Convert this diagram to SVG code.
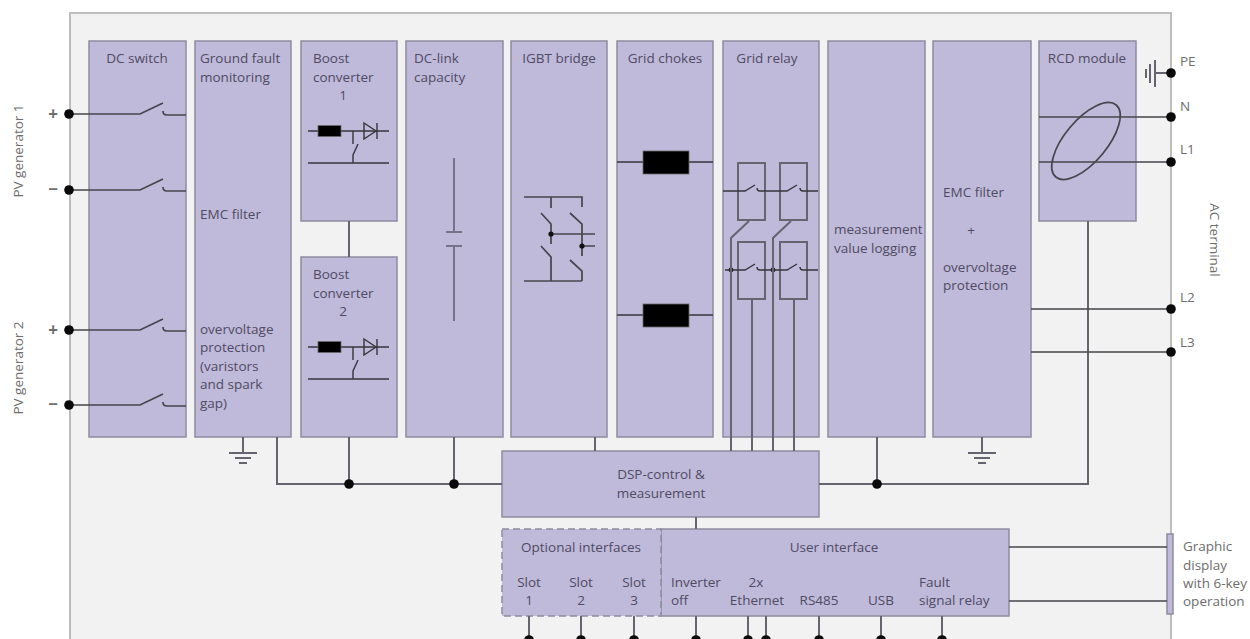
<svg xmlns="http://www.w3.org/2000/svg" width="1250" height="639" viewBox="0 0 1250 639">
<defs>
<style>
text{font-family:"Open Sans","Noto Sans","Liberation Sans",sans-serif;font-size:13.5px;fill:#4f4b63}
.o{fill:#6e6e6e}
.s{font-size:17px;font-weight:700}
.m{text-anchor:middle}
.b{fill:#bfb9da;stroke:#8f8c9e;stroke-width:1.5}
.l{fill:none;stroke:#45454b;stroke-width:1.7}
.t{fill:none;stroke:#36363c;stroke-width:1.4}
.g{fill:none;stroke:#66646f;stroke-width:2}
.k{fill:#000;stroke:#6a6a6a;stroke-width:.8}
</style>
<circle id="dot" r="4.800" fill="#0a0a0a"/>
<path id="sw" class="l" d="M0 0H71L94-11M94-3Q94 1 98 1H117"/>
<g id="ground"><path class="g" d="M0 0V16M-14 16H14M-8 21H8M-4 26H4"/></g>
<g id="boost"><path class="t" d="M0 0H81M0 32H81M45 0V13M50 13L45 24V32"/><rect class="k" x="10" y="-5.500" width="23" height="11"/><path class="t" d="M56-8L68 0L56 8ZM69-8V8"/></g>
</defs>
<rect id="enclosure" x="70" y="13" width="1101" height="640" fill="#f2f2f2" stroke="#bdbdbd" stroke-width="2"/>

<g id="dc-switch"><rect class="b" x="89" y="41" width="97" height="396"/><text class="m" x="137" y="63">DC switch</text></g>
<g id="ground-fault"><rect class="b" x="195" y="41" width="96" height="396"/><text x="200" y="63">Ground fault</text><text x="200" y="82">monitoring</text><text x="200" y="219">EMC filter</text><text x="200" y="334">overvoltage</text><text x="200" y="352">protection</text><text x="200" y="371">(varistors</text><text x="200" y="389">and spark</text><text x="200" y="408">gap)</text></g>
<g id="boost-1"><rect class="b" x="301" y="41" width="96" height="180"/><text x="313" y="63">Boost</text><text x="313" y="82">converter</text><text class="m" x="343" y="100">1</text><use href="#boost" x="308" y="131"/></g>
<g id="boost-2"><rect class="b" x="301" y="257" width="96" height="180"/><text x="313" y="279">Boost</text><text x="313" y="298">converter</text><text class="m" x="343" y="316">2</text><use href="#boost" x="308" y="347"/></g>
<g id="dc-link"><rect class="b" x="406" y="41" width="97" height="396"/><text x="414" y="63">DC-link</text><text x="414" y="82">capacity</text><path class="g" stroke="#75728a" style="stroke:#75728a" d="M454 158V232M446 232H462M446 246H462M454 246V321"/></g>
<g id="igbt"><rect class="b" x="511" y="41" width="96" height="396"/><text class="m" x="559" y="63">IGBT bridge</text>
<path class="l" d="M524 197H582V207M551 197V208M541 213L551 224V244M570 213L582 224V256M551 234H595M582 246H595M541 246L551 257V281M524 281H582M570 260L582 271V281"/><circle cx="551" cy="234" r="2.600" fill="#111"/><circle cx="582" cy="246" r="2.600" fill="#111"/></g>
<g id="grid-chokes"><rect class="b" x="617" y="41" width="96" height="396"/><text class="m" x="665" y="63">Grid chokes</text><path class="t" d="M617 162H713M617 315H713"/><rect class="k" x="643" y="151" width="46" height="23"/><rect class="k" x="643" y="304" width="46" height="23"/></g>
<g id="grid-relay"><rect class="b" x="723" y="41" width="96" height="396"/><text class="m" x="767" y="63">Grid relay</text>
<rect class="g" x="738" y="163" width="27" height="57"/><rect class="g" x="780" y="163" width="27" height="57"/><rect class="g" x="738" y="242" width="27" height="57"/><rect class="g" x="780" y="242" width="27" height="57"/>
<path class="t" d="M723 191H745L755 185M757 188Q757 191 760 191H787L797 185M800 188Q800 191 803 191H818M725 270H745L755 264M757 267Q757 270 760 270H787L797 264M800 267Q800 270 803 270H818"/>
<circle cx="731" cy="270" r="2.400" fill="#222"/><circle cx="773" cy="270" r="2.400" fill="#222"/></g>
<g id="measurement"><rect class="b" x="828" y="41" width="97" height="396"/><text x="834" y="234">measurement</text><text x="834" y="253">value logging</text></g>
<g id="emc-filter"><rect class="b" x="933" y="41" width="98" height="396"/><text x="943" y="197">EMC filter</text><text class="m" x="971" y="235">+</text><text x="943" y="272">overvoltage</text><text x="943" y="290">protection</text></g>
<g id="rcd"><rect class="b" x="1039" y="41" width="97" height="180"/><text class="m" x="1087" y="63">RCD module</text><ellipse class="l" cx="1086" cy="141" rx="47" ry="21" transform="rotate(-50 1086 141)"/></g>
<g id="dsp"><rect class="b" x="502" y="451" width="317" height="66"/><text class="m" x="661" y="479">DSP-control &amp;</text><text class="m" x="661" y="498">measurement</text></g>
<g id="user-interface"><rect class="b" x="661" y="529" width="348" height="87"/><text class="m" x="834" y="552">User interface</text><text x="671" y="587">Inverter</text><text x="671" y="605">off</text><text class="m" x="756" y="587">2x</text><text class="m" x="757" y="605">Ethernet</text><text class="m" x="819" y="605">RS485</text><text class="m" x="881" y="605">USB</text><text x="919" y="587">Fault</text><text x="919" y="605">signal relay</text></g>
<g id="optional-interfaces"><rect class="b" x="502" y="529" width="159" height="87" stroke-dasharray="7 4" stroke-width="2"/><text class="m" x="581" y="552">Optional interfaces</text><text class="m" x="529" y="587">Slot</text><text class="m" x="529" y="605">1</text><text class="m" x="581" y="587">Slot</text><text class="m" x="581" y="605">2</text><text class="m" x="634" y="587">Slot</text><text class="m" x="634" y="605">3</text></g>
<g id="display"><rect class="b" x="1167" y="534" width="6" height="80"/><text class="o" x="1183" y="551">Graphic</text><text class="o" x="1183" y="570">display</text><text class="o" x="1183" y="588">with 6-key</text><text class="o" x="1183" y="606">operation</text></g>

<g id="connectors">
<use href="#sw" x="69" y="114"/><use href="#sw" x="69" y="190"/><use href="#sw" x="69" y="330"/><use href="#sw" x="69" y="405"/>
<use href="#dot" x="69" y="114"/><use href="#dot" x="69" y="190"/><use href="#dot" x="69" y="330"/><use href="#dot" x="69" y="405"/>
<path class="g" d="M349 221V257M277 437V484H502M349 437V484M454 437V484M819 484H1088V221M877 437V484M595 437V451M696 517V529"/>
<path class="g" d="M731 451V238L749 221M773 451V238L791 221M752 299V451M794 299V451"/>
<path class="l" d="M1039 117H1171M1039 162H1171M1031 309H1171M1031 352H1171M1009 547H1167M1009 601H1167"/>
<path class="g" d="M1171 73H1155M1155 60V87M1150 64V83M1146 69V78"/>
<use href="#dot" x="1171" y="73"/><use href="#dot" x="1171" y="117"/><use href="#dot" x="1171" y="162"/><use href="#dot" x="1171" y="309"/><use href="#dot" x="1171" y="352"/>
<use href="#dot" x="349" y="484"/><use href="#dot" x="454" y="484"/><use href="#dot" x="877" y="484"/>
<use href="#ground" x="243" y="437"/><use href="#ground" x="982" y="437"/>
<path class="g" d="M529 616V639M581 616V639M634 616V639M696 616V639M748 616V639M766 616V639M819 616V639M881 616V639M942 616V639"/>
<g><use href="#dot" x="529" y="640"/><use href="#dot" x="581" y="640"/><use href="#dot" x="634" y="640"/><use href="#dot" x="696" y="640"/><use href="#dot" x="748" y="640"/><use href="#dot" x="766" y="640"/><use href="#dot" x="819" y="640"/><use href="#dot" x="881" y="640"/><use href="#dot" x="942" y="640"/></g>
</g>

<g id="terminals">
<text class="o m s" x="53" y="120">+</text><text class="o m s" x="53" y="195">−</text><text class="o m s" x="53" y="336">+</text><text class="o m s" x="53" y="410">−</text>
<text class="o m" transform="translate(23 151) rotate(-90)">PV generator 1</text>
<text class="o m" transform="translate(23 368) rotate(-90)">PV generator 2</text>
<text class="o" x="1180" y="66">PE</text><text class="o" x="1180" y="111">N</text><text class="o" x="1180" y="154">L1</text><text class="o" x="1180" y="302">L2</text><text class="o" x="1180" y="347">L3</text>
<text class="o m" transform="translate(1210 240) rotate(90)">AC terminal</text>
</g>
</svg>
